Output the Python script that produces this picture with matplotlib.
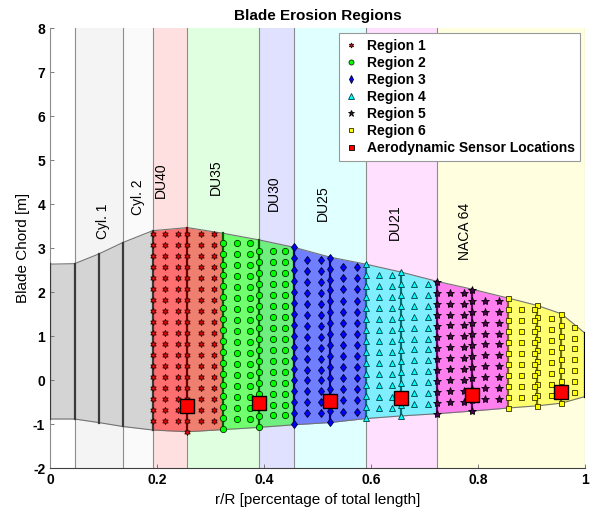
import numpy as np
import matplotlib.pyplot as plt
from matplotlib.lines import Line2D

plt.rcParams['font.family'] = ['Liberation Sans', 'DejaVu Sans']
plt.rcParams['axes.unicode_minus'] = False

# blade outline at each spanwise station
station_x = [0.0, 0.046, 0.091, 0.136, 0.192, 0.257, 0.324, 0.391, 0.457, 0.523,
             0.590, 0.656, 0.723, 0.789, 0.856, 0.911, 0.956, 1.0]
chord_top = [2.64, 2.65, 2.87, 3.13, 3.40, 3.47, 3.34, 3.19, 3.02, 2.80,
             2.64, 2.46, 2.25, 2.07, 1.87, 1.70, 1.51, 1.07]
chord_bot = [-0.88, -0.88, -0.96, -1.05, -1.13, -1.17, -1.12, -1.07, -1.01, -0.96,
             -0.87, -0.81, -0.76, -0.70, -0.63, -0.58, -0.52, -0.37]

# airfoil bands
band_edges = [0.0, 0.046, 0.136, 0.192, 0.257, 0.391, 0.457, 0.590, 0.723, 1.0]
band_colors = ['white', '#f4f4f4', '#fafafa', '#ffe0e0', '#e0ffe0', '#e0e0ff',
               '#e0ffff', '#ffe0ff', '#ffffe0']
band_labels = ['Cyl. 1', 'Cyl. 2', 'DU40', 'DU35', 'DU30', 'DU25', 'DU21', 'NACA 64']
label_x = [0.099, 0.164, 0.208, 0.310, 0.418, 0.510, 0.644, 0.775]
label_y = [3.20, 3.76, 4.14, 4.21, 3.85, 3.63, 3.19, 2.73]

# erosion regions
region_names = ['Region 1', 'Region 2', 'Region 3', 'Region 4', 'Region 5', 'Region 6']
region_fill = ['red', 'lime', 'blue', 'cyan', 'magenta', 'yellow']
region_face = ['red', 'lime', 'blue', 'cyan', '#4b004b', 'yellow']
region_edge = ['#300000', '#003000', '#000030', '#004040', 'black', '#303000']
region_line = ['#700000', '#006000', '#000080', '#007070', '#600060', '#707000']
region_marker = [(6, 1, 0), 'o', 'd', '^', '*', 's']
region_ms = [4.5, 4.5, 4.5, 5, 6, 3.6]
region_start = [4, 6, 8, 10, 12, 14]
region_end = [6, 8, 10, 12, 14, 17]

# station lines carrying markers
line_x = [0.192, 0.257, 0.324, 0.391, 0.457, 0.523, 0.590, 0.656, 0.723, 0.789,
          0.856, 0.911, 0.956]
line_first = [3.33, 3.33, 3.13, 2.94, 3.02, 2.79, 2.64, 2.45, 2.24, 2.05, 1.86, 1.70, 1.50]
line_last = [-0.92, -1.17, -1.11, -1.07, -1.00, -0.955, -0.86, -0.81, -0.77, -0.69,
             -0.62, -0.58, -0.51]
line_n = [18, 19, 18, 17, 17, 16, 15, 14, 13, 12, 11, 10, 9]
line_region = [0, 0, 1, 1, 2, 2, 3, 3, 4, 4, 5, 5, 5]

# marker columns between stations
grid_x = [0.215, 0.240, 0.282, 0.307, 0.349, 0.374, 0.416, 0.440, 0.481, 0.506,
          0.548, 0.573, 0.615, 0.640, 0.681, 0.706, 0.748, 0.773, 0.814, 0.839,
          0.880, 0.905, 0.936, 0.980]
grid_first = [3.33, 3.33, 3.33, 3.33, 3.13, 3.13, 2.94, 2.94, 2.73, 2.73,
              2.57, 2.57, 2.39, 2.39, 2.19, 2.19, 1.99, 1.99, 1.81, 1.81,
              1.62, 1.62, 1.42, 1.22]
grid_last = [-0.92, -0.92, -0.92, -0.92, -0.87, -0.87, -0.80, -0.80, -0.75, -0.75,
             -0.71, -0.71, -0.62, -0.62, -0.54, -0.54, -0.49, -0.49, -0.43, -0.43,
             -0.38, -0.38, -0.33, -0.27]
grid_n = [18, 18, 18, 18, 17, 17, 16, 16, 15, 15, 14, 14, 13, 13, 12, 12,
          11, 11, 10, 10, 9, 9, 8, 7]
grid_region = [0, 0, 0, 0, 1, 1, 1, 1, 2, 2, 2, 2, 3, 3, 3, 3, 4, 4, 4, 4, 5, 5, 5, 5]

# aerodynamic sensors
sensor_x = [0.257, 0.390, 0.523, 0.656, 0.789, 0.956]
sensor_y = [-0.58, -0.52, -0.46, -0.41, -0.33, -0.26]

fig = plt.figure(figsize=(5.93, 5.19), dpi=100)
ax = fig.add_axes([0.0843, 0.0977, 0.9022, 0.8478])

# background bands
for i in range(len(band_colors)):
    ax.axvspan(band_edges[i], band_edges[i + 1], color=band_colors[i], lw=0, zorder=0)
for xe in band_edges[1:]:
    ax.axvline(xe, color='0.55', lw=0.8, zorder=0.5)

# blade fill
sx = np.array(station_x)
top = np.array(chord_top)
bot = np.array(chord_bot)
ax.fill_between(sx[:5], bot[:5], top[:5], color='#d4d4d4', lw=0, zorder=1)
for r in range(6):
    a, b = region_start[r], region_end[r] + 1
    ax.fill_between(sx[a:b], bot[a:b], top[a:b], color=region_fill[r], alpha=0.5,
                    lw=0, zorder=1)
ax.plot(sx, top, color='0.45', lw=0.8, zorder=2)
ax.plot(sx, bot, color='0.45', lw=0.8, zorder=2)

# plain station lines
for i in [0, 1, 2, 3, 4]:
    ax.plot([sx[i], sx[i]], [bot[i], top[i]], color='#3a3a3a', lw=1.6, zorder=3)
ax.plot([sx[-1], sx[-1]], [bot[-1], top[-1]], color='black', lw=1.6, zorder=3)

# station lines with markers
for k, x in enumerate(line_x):
    r = line_region[k]
    i = station_x.index(x)
    if k > 0:
        ax.plot([x, x], [bot[i], top[i]], color=region_line[r], lw=1.6, zorder=3)
    ys = np.linspace(line_first[k], line_last[k], line_n[k])
    ax.plot([x] * len(ys), ys, ls='none', marker=region_marker[r], ms=region_ms[r],
            mfc=region_face[r], mec=region_edge[r], mew=0.6, zorder=4)

# interior marker columns
for k, x in enumerate(grid_x):
    r = grid_region[k]
    ys = np.linspace(grid_first[k], grid_last[k], grid_n[k])
    ax.plot([x] * len(ys), ys, ls='none', marker=region_marker[r], ms=region_ms[r],
            mfc=region_face[r], mec=region_edge[r], mew=0.6, zorder=4)

ax.plot(sensor_x, sensor_y, ls='none', marker='s', ms=9.8, mfc='red', mec='black',
        mew=1.0, zorder=5)

for name, x, y in zip(band_labels, label_x, label_y):
    ax.text(x, y, name, rotation=90, ha='center', va='bottom', fontsize=10, zorder=6)

handles = [Line2D([], [], ls='none', marker=region_marker[r], ms=region_ms[r] * 0.8,
                  mfc=region_face[r], mec=region_edge[r], mew=0.6) for r in range(6)]
handles.append(Line2D([], [], ls='none', marker='s', ms=3.6, mfc='red', mec='black', mew=0.6))
leg = ax.legend(handles, region_names + ['Aerodynamic Sensor Locations'],
                loc='upper right', fancybox=False, framealpha=1, edgecolor='0.6',
                prop={'weight': 'bold', 'size': 10}, handlelength=1.0,
                handletextpad=0.6, labelspacing=0.22, borderpad=0.4,
                borderaxespad=0.35)
leg.get_frame().set_linewidth(0.8)
leg.set_zorder(10)

ax.set_xlim(0, 1)
ax.set_ylim(-2, 8)
ax.set_xticks([0, 0.2, 0.4, 0.6, 0.8, 1])
ax.set_xticklabels(['0', '0.2', '0.4', '0.6', '0.8', '1'])
ax.set_yticks(range(-2, 9))
ax.tick_params(direction='in', length=3, width=0.6, color='0.4', labelsize=10)
for lab in ax.get_xticklabels() + ax.get_yticklabels():
    lab.set_fontweight('bold')
ax.spines['top'].set_visible(False)
ax.spines['right'].set_visible(False)
ax.spines['left'].set_color('0.55')
ax.spines['bottom'].set_color('0.25')
ax.set_xlabel('r/R [percentage of total length]', fontsize=11)
ax.set_ylabel('Blade Chord [m]', fontsize=11, labelpad=2)
ax.set_title('Blade Erosion Regions', fontsize=11, fontweight='bold', pad=6)

fig.savefig('out.png', dpi=100)
